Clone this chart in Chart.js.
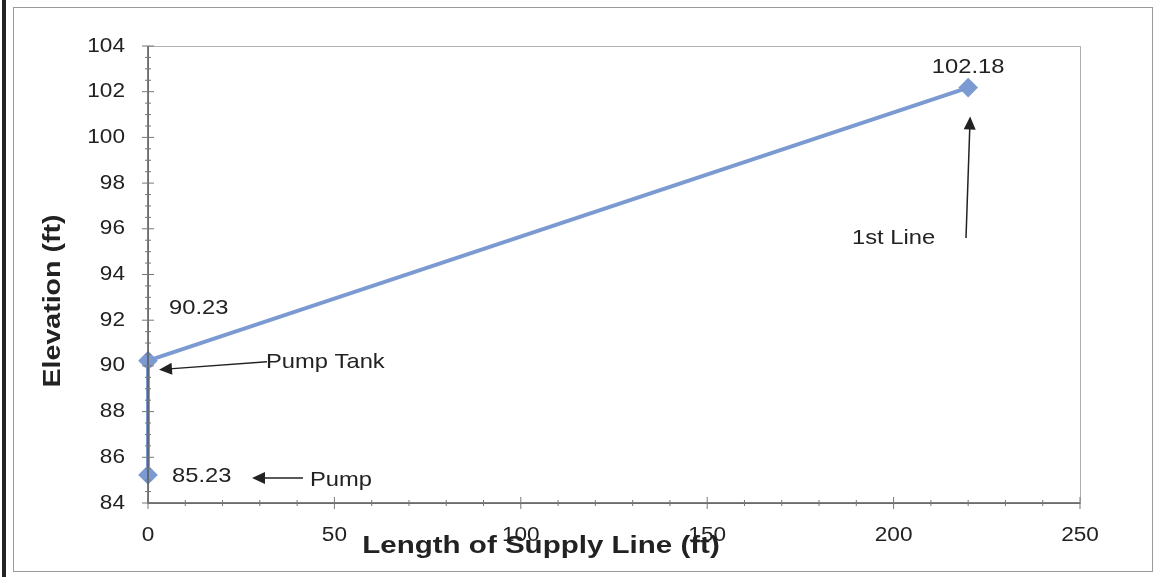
<!DOCTYPE html>
<html>
<head>
<meta charset="utf-8">
<script src="https://cdn.jsdelivr.net/npm/chart.js@4.4.1/dist/chart.umd.min.js"></script>
<style>
  html, body { margin: 0; padding: 0; background: #fff; }
  #wrap { width: 1157px; height: 577px; position: relative; }
</style>
</head>
<body>
<div id="wrap"><canvas id="elevChart" width="1157" height="577"></canvas></div>
<script>
// supply line profile
const lengthFt = [0, 0, 220];
const elevationFt = [85.23, 90.23, 102.18];
const pointLabels = ['85.23', '90.23', '102.18'];
const yTicks = [84, 86, 88, 90, 92, 94, 96, 98, 100, 102, 104];
const xTicks = [0, 50, 100, 150, 200, 250];

const FONT = 'Liberation Sans, Arial, sans-serif';
const LINE_BLUE = 'rgb(124, 154, 210)';

// scanned Excel text looks a bit wide, so stretch it horizontally
function wideText(ctx, text, x, y, align, stretch) {
    stretch = stretch || 1.13;
    const w = ctx.measureText(text).width * stretch;
    let x0 = x;
    if (align === 'center') x0 = x - w / 2;
    if (align === 'right') x0 = x - w;
    ctx.save();
    ctx.translate(x0, y);
    ctx.scale(stretch, 1);
    ctx.textAlign = 'left';
    ctx.fillText(text, 0, 0);
    ctx.restore();
}

function arrow(ctx, x1, y1, x2, y2) {
    // line from (x1,y1) with arrow head at (x2,y2)
    const ang = Math.atan2(y2 - y1, x2 - x1);
    const len = 13, wid = 6;
    ctx.beginPath();
    ctx.moveTo(x1, y1);
    ctx.lineTo(x2 - Math.cos(ang) * len * 0.8, y2 - Math.sin(ang) * len * 0.8);
    ctx.stroke();
    ctx.beginPath();
    ctx.moveTo(x2, y2);
    ctx.lineTo(x2 - Math.cos(ang) * len - Math.sin(ang) * wid, y2 - Math.sin(ang) * len + Math.cos(ang) * wid);
    ctx.lineTo(x2 - Math.cos(ang) * len + Math.sin(ang) * wid, y2 - Math.sin(ang) * len - Math.cos(ang) * wid);
    ctx.closePath();
    ctx.fill();
}

// frame, ticks, titles, labels and arrows
const excelLook = {
    id: 'excelLook',
    beforeDraw(chart) {
        const ctx = chart.ctx;
        const a = chart.chartArea;
        ctx.save();
        ctx.fillStyle = '#fff';
        ctx.fillRect(0, 0, chart.width, chart.height);
        ctx.strokeStyle = '#9a9a9a';
        ctx.lineWidth = 1;
        ctx.strokeRect(13.5, 7.5, 1139, 564);
        ctx.strokeStyle = '#222';
        ctx.lineWidth = 4;
        ctx.beginPath();
        ctx.moveTo(4, 0);
        ctx.lineTo(4, chart.height);
        ctx.stroke();
        // plot area border
        ctx.strokeStyle = '#b0b0b0';
        ctx.lineWidth = 1;
        ctx.strokeRect(a.left + 0.5, a.top + 0.5, a.width, a.height);
        ctx.restore();
    },
    afterDatasetsDraw(chart) {
        const ctx = chart.ctx;
        const xs = chart.scales.x, ys = chart.scales.y;
        const a = chart.chartArea;
        ctx.save();
        // axis lines
        ctx.strokeStyle = '#555';
        ctx.lineWidth = 1.5;
        ctx.beginPath();
        ctx.moveTo(a.left, a.top);
        ctx.lineTo(a.left, a.bottom);
        ctx.lineTo(a.right, a.bottom);
        ctx.stroke();
        // major and minor ticks
        ctx.lineWidth = 1;
        ctx.strokeStyle = '#777';
        for (let v = 84; v <= 104; v += 0.5) {
            const y = ys.getPixelForValue(v);
            const big = v % 2 === 0;
            ctx.beginPath();
            ctx.moveTo(a.left - (big ? 6 : 3), y);
            ctx.lineTo(a.left + (big ? 6 : 3), y);
            ctx.stroke();
        }
        for (let v = 0; v <= 250; v += 10) {
            const x = xs.getPixelForValue(v);
            const big = v % 50 === 0;
            ctx.beginPath();
            ctx.moveTo(x, a.bottom - (big ? 6 : 3));
            ctx.lineTo(x, a.bottom + (big ? 6 : 3));
            ctx.stroke();
        }

        // tick labels
        ctx.fillStyle = '#222';
        ctx.font = '20px ' + FONT;
        ctx.textBaseline = 'middle';
        yTicks.forEach(v => wideText(ctx, String(v), a.left - 23, ys.getPixelForValue(v), 'right'));
        xTicks.forEach(v => wideText(ctx, String(v), xs.getPixelForValue(v), a.bottom + 32, 'center'));

        // point value labels
        ctx.font = '21px ' + FONT;
        const px = i => xs.getPixelForValue(lengthFt[i]);
        const py = i => ys.getPixelForValue(elevationFt[i]);
        wideText(ctx, pointLabels[0], px(0) + 24, py(0) + 1, 'left');
        wideText(ctx, pointLabels[1], px(1) + 21, py(1) - 52, 'left');
        wideText(ctx, pointLabels[2], px(2) + 0, py(2) - 20, 'center');

        // annotations with arrows
        ctx.strokeStyle = '#222';
        ctx.fillStyle = '#222';
        ctx.lineWidth = 1.5;
        wideText(ctx, 'Pump Tank', 266, py(1) + 2, 'left');
        arrow(ctx, 267, py(1) + 1, px(1) + 11, py(1) + 9);
        wideText(ctx, 'Pump', 310, py(0) + 5, 'left');
        arrow(ctx, 303, py(0) + 3, 252, py(0) + 3);
        wideText(ctx, '1st Line', 852, 238, 'left');
        arrow(ctx, 966, 238, px(2) + 2, py(2) + 29);

        // axis titles
        ctx.font = 'bold 24px ' + FONT;
        ctx.textBaseline = 'alphabetic';
        wideText(ctx, 'Length of Supply Line (ft)', 541, 553, 'center', 1.23);
        ctx.translate(60, 301);
        ctx.rotate(-Math.PI / 2);
        wideText(ctx, 'Elevation (ft)', 0, 0, 'center', 1.19);
        ctx.restore();
    }
};

new Chart(document.getElementById('elevChart'), {
    type: 'scatter',
    data: {
        datasets: [{
            data: lengthFt.map((x, i) => ({ x: x, y: elevationFt[i] })),
            showLine: true,
            borderColor: LINE_BLUE,
            backgroundColor: LINE_BLUE,
            borderWidth: 4,
            pointStyle: 'rectRot',
            pointRadius: 7,
            pointHoverRadius: 7,
            clip: false
        }]
    },
    options: {
        responsive: false,
        animation: false,
        events: [],
        layout: { padding: { left: 0, top: 46, right: 77, bottom: 0 } },
        plugins: {
            legend: { display: false },
            tooltip: { enabled: false }
        },
        scales: {
            x: {
                type: 'linear',
                min: 0,
                max: 250,
                afterBuildTicks: s => { s.ticks = xTicks.map(v => ({ value: v })); },
                afterFit: s => { s.height = 74; },
                border: { display: false },
                grid: { display: false },
                ticks: { display: false }
            },
            y: {
                type: 'linear',
                min: 84,
                max: 104,
                afterBuildTicks: s => { s.ticks = yTicks.map(v => ({ value: v })); },
                afterFit: s => { s.width = 148; },
                border: { display: false },
                grid: { display: false },
                ticks: { display: false }
            }
        }
    },
    plugins: [excelLook]
});
</script>
</body>
</html>
